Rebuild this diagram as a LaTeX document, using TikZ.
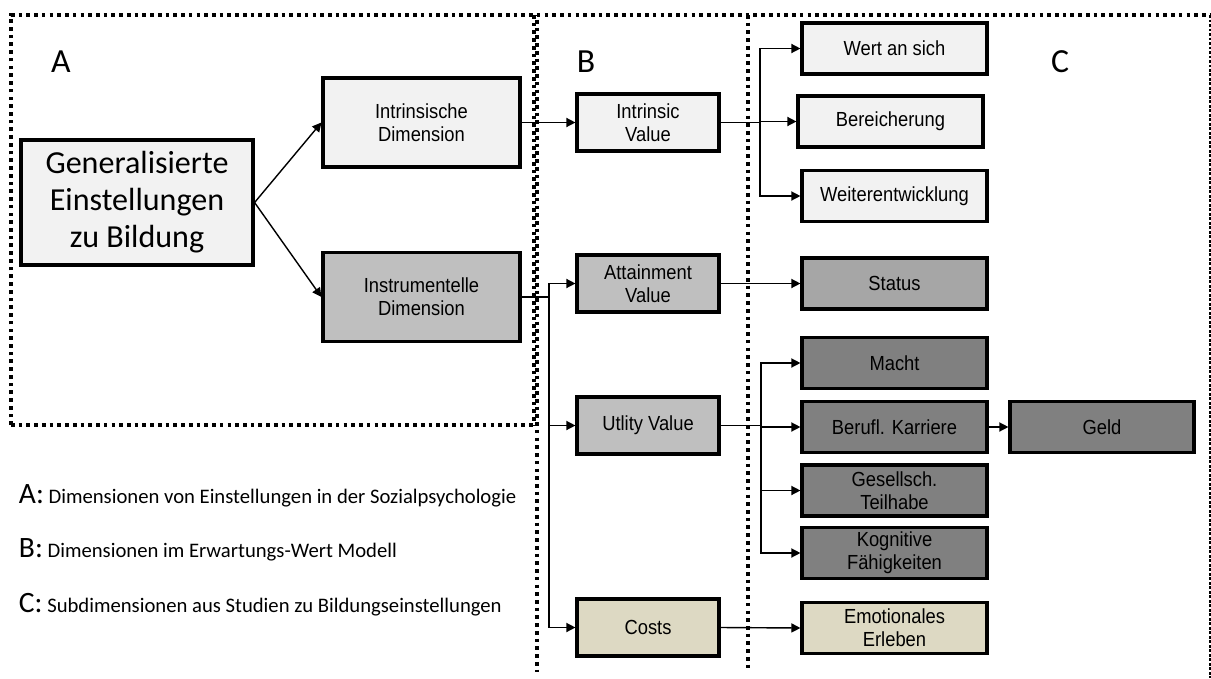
\documentclass[tikz,border=0pt]{standalone}
\usepackage{fontspec}
\setmainfont{Liberation Sans}
\newfontfamily\calibri{Carlito}
\newfontfamily\boxfont[FakeStretch=0.9]{Liberation Sans}
\usetikzlibrary{arrows.meta}
\definecolor{boxlight}{HTML}{F2F2F2}
\definecolor{boxmid}{HTML}{BFBFBF}
\definecolor{boxstat}{HTML}{A6A6A6}
\definecolor{boxdark}{HTML}{808080}
\definecolor{boxbeige}{HTML}{DDD9C3}
\tikzset{
  box/.style={
    rectangle,
    draw=black,
    line width=2.2pt,
    align=center,
    inner sep=2pt,
    font=\boxfont\fontsize{14.5}{16.2}\selectfont
  },
  dimbox/.style={box, minimum width=4.925cm, minimum height=2.225cm},
  valbox/.style={box, minimum width=3.55cm, minimum height=1.425cm},
  subbox/.style={box, minimum width=4.625cm, minimum height=1.275cm},
  arrow/.style={
    line width=1pt,
    ->,
    >={Triangle[length=6.5pt,width=6.5pt]}
  },
  link/.style={line width=1pt},
  frame/.style={line width=2.6pt, dash pattern=on 2.6pt off 2.9pt},
  thinframe/.style={line width=1.1pt, dash pattern=on 1.8pt off 1.4pt},
  letter/.style={font=\calibri\fontsize{24}{28}\selectfont},
  legend/.style={anchor=base west, font=\calibri\fontsize{14.7}{17}\selectfont}
}

\begin{document}
\begin{tikzpicture}[x=0.025cm, y=-0.025cm]
  \useasboundingbox (0,0) rectangle (1211,678);

  % Frames
  \draw[frame] (11,425) -- (11,15) -- (1211,15);
  \draw[frame] (11,425) -- (534,425);
  \draw[frame] (534,15) -- (534,425);
  \draw[frame, dash phase=2pt] (537,15) -- (537,672);
  \draw[frame] (748,15) -- (748,672);
  \draw[thinframe] (1210,15) -- (1210,678);

  % Letters
  \node[letter] (letA) at (61,62) {A};
  \node[letter] (letB) at (586,62) {B};
  \node[letter] (letC) at (1060,62) {C};

  % A
  \node[box, fill=boxlight, minimum width=5.8cm, minimum height=3.125cm, font=\calibri\fontsize{22.8}{26.3}\selectfont] (gen) at (137,202.5) {Generalisierte\\Einstellungen\\zu Bildung};
  \node[dimbox, fill=boxlight] (intrdim) at (421.5,122.5) {Intrinsische\\Dimension};
  \node[dimbox, fill=boxmid] (instrdim) at (421.5,297) {Instrumentelle\\Dimension};

  % B
  \node[valbox, fill=boxlight] (intrval) at (648,122.5) {Intrinsic\\Value};
  \node[valbox, fill=boxmid] (attval) at (648,283.5) {Attainment\\Value};
  \node[valbox, fill=boxmid] (utilval) at (648,425.5) {Utlity Value};
  \node[valbox, fill=boxbeige] (costs) at (648,627.5) {Costs};

  % C
  \node[subbox, fill=boxlight] (wert) at (894.5,48.5) {Wert an sich};
  \node[subbox, fill=boxlight] (berei) at (890.5,121.5) {Bereicherung};
  \node[subbox, fill=boxlight] (weiter) at (894.5,196) {Weiterentwicklung};
  \node[subbox, fill=boxstat] (status) at (894.5,283.5) {Status};
  \node[subbox, fill=boxdark] (macht) at (894.5,363) {Macht};
  \node[subbox, fill=boxdark] (berufl) at (894.5,427) {Berufl. Karriere};
  \node[subbox, fill=boxdark] (gesell) at (894.5,490.5) {Gesellsch.\\Teilhabe};
  \node[subbox, fill=boxdark] (kogn) at (894.5,553) {Kognitive\\Fähigkeiten};
  \node[subbox, fill=boxbeige] (emot) at (894.5,628) {Emotionales\\Erleben};
  \node[subbox, fill=boxdark, minimum width=4.6cm] (geld) at (1102,427) {Geld};

  % Legend
  \node[legend] (legA) at (14,503) {{\fontsize{21}{24}\selectfont A:} Dimensionen von Einstellungen in der Sozialpsychologie};
  \node[legend] (legB) at (14,557) {{\fontsize{21}{24}\selectfont B:} Dimensionen im Erwartungs-Wert Modell};
  \node[legend] (legC) at (14,612) {{\fontsize{21}{24}\selectfont C:} Subdimensionen aus Studien zu Bildungseinstellungen};

  % Connections
  \draw[arrow] (gen.east) -- (intrdim.west);
  \draw[arrow] (gen.east) -- (instrdim.west);
  \draw[arrow] (intrdim.east) -- (intrval.west);

  \coordinate (trunkB) at (549,297);
  \draw[link] (instrdim.east) -- (trunkB);
  \foreach \n in {attval, utilval, costs}
    \draw[arrow] (trunkB) |- (\n.west);

  \coordinate (trunkI) at (760,122.5);
  \draw[link] (intrval.east) -- (trunkI);
  \foreach \n in {wert, berei, weiter}
    \draw[arrow] (trunkI) |- (\n.west);

  \draw[arrow] (attval.east) -- (status.west);

  \coordinate (trunkU) at (761,425.5);
  \draw[link] (utilval.east) -- (trunkU);
  \foreach \n in {macht, berufl, gesell, kogn}
    \draw[arrow] (trunkU) |- (\n.west);

  \draw[arrow] (costs.east) -- (emot.west);
  \draw[arrow] (berufl.east) -- (geld.west);
\end{tikzpicture}
\end{document}
